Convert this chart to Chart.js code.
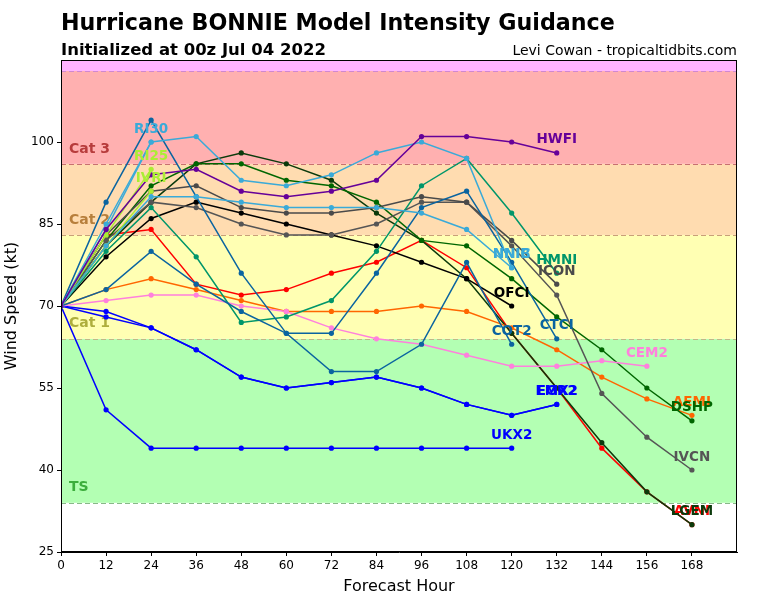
<!DOCTYPE html>
<html>
<head>
<meta charset="utf-8">
<script src="https://cdn.jsdelivr.net/npm/chart.js@4.4.0/dist/chart.umd.min.js"></script>
<style>
  html, body { margin: 0; padding: 0; background: #fff; }
</style>
</head>
<body>
<canvas id="intensity-chart" width="768" height="600"></canvas>
<script>
// forecast hours and tick labels
const forecastHours = [0, 12, 24, 36, 48, 60, 72, 84, 96, 108, 120, 132, 144, 156, 168];
const xTicks = [0, 12, 24, 36, 48, 60, 72, 84, 96, 108, 120, 132, 144, 156, 168];
const yTicks = [25, 40, 55, 70, 85, 100];

// category bounds (kt) and names
const catBounds = [34, 64, 83, 96, 113];
const catNames = ['TS', 'Cat 1', 'Cat 2', 'Cat 3'];

// model intensities (kt), one value every 12 h from hour 0
const hwfi = [70, 84, 94, 95, 91, 90, 91, 93, 101, 101, 100, 98];
const ri30 = [70, 85, 100];
const ri25 = [70, 83, 95];
const ivri = [70, 81, 91];
const nnic = [70, 84, 100, 101, 93, 92, 94, 98, 100, 97, 77];
const nnib = [70, 81, 90, 90, 89, 88, 88, 88, 87, 84, 77];
const cot2 = [70, 89, 104, 90, 76, 65, 58, 58, 63, 78, 63];
const ctci = [70, 73, 80, 74, 69, 65, 65, 76, 88, 91, 78, 64];
const hmni = [70, 80, 88, 79, 67, 68, 71, 80, 92, 97, 87, 76];
const icon = [70, 83, 91, 92, 88, 87, 87, 88, 90, 89, 82, 74];
const ivcn = [70, 82, 89, 88, 85, 83, 83, 85, 89, 89, 81, 72, 54, 46, 40];
const ofci = [70, 79, 86, 89, 87, 85, 83, 81, 78, 75, 70];
const cem2 = [70, 71, 72, 72, 70, 69, 66, 64, 63, 61, 59, 59, 60, 59];
const egr2 = [70, 69, 66, 62, 57, 55, 56, 57, 55, 52, 50, 52];
const emx2 = [70, 68, 66, 62, 57, 55, 56, 57, 55, 52, 50, 52];
const ukx2 = [70, 51, 44, 44, 44, 44, 44, 44, 44, 44, 44];
const aemi = [70, 73, 75, 73, 71, 69, 69, 69, 70, 69, 66, 62, 57, 53, 50];
const dshp = [70, 82, 92, 96, 96, 93, 92, 89, 82, 81, 75, 68, 62, 55, 49];
const lgem = [70, 81, 89, 96, 98, 96, 93, 87, 82, 75, 65, 55, 45, 36, 30];
const avni = [70, 83, 84, 74, 72, 73, 76, 78, 82, 77, 65, 55, 44, 36, 30];

// first entry is drawn on top
const models = [
  ['HWFI', '#660099', hwfi],
  ['NNIB', '#3aaad8', nnib],
  ['NNIC', '#3aaad8', nnic],
  ['RI30', '#3aaad8', ri30],
  ['RI25', '#aaee33', ri25],
  ['IVRI', '#aaee33', ivri],
  ['COT2', '#0a64a0', cot2],
  ['CTCI', '#0a64a0', ctci],
  ['HMNI', '#00966a', hmni],
  ['ICON', '#4a4a4a', icon],
  ['IVCN', '#555555', ivcn],
  ['OFCI', '#000000', ofci],
  ['CEM2', '#ff80dd', cem2],
  ['EGR2', '#0000ff', egr2],
  ['EMX2', '#0000ff', emx2],
  ['UKX2', '#0000ff', ukx2],
  ['DSHP', '#006600', dshp],
  ['AEMI', '#ff6600', aemi],
  ['LGEM', '#0b3a0b', lgem],
  ['AVNI', '#ff0000', avni]
];

const bandFill = ['#b3ffb3', '#ffffb3', '#ffdcb0', '#ffb0b0', '#ffb3ff'];
const bandLine = ['#88b888', '#c0b888', '#c8a078', '#c87070', '#d088d0'];
const catColor = ['rgba(40,160,40,0.85)', 'rgba(160,160,40,0.85)', 'rgba(170,110,40,0.85)', 'rgba(170,40,40,0.85)'];

const bands = {
  id: 'bands',
  beforeDatasetsDraw(chart) {
    const { ctx, chartArea: a, scales: { y } } = chart;
    ctx.save();
    ctx.beginPath();
    ctx.rect(a.left, a.top, a.width, a.height);
    ctx.clip();
    for (let i = 0; i < catBounds.length; i++) {
      const lo = y.getPixelForValue(catBounds[i]);
      const hi = i + 1 < catBounds.length ? y.getPixelForValue(catBounds[i + 1]) : a.top;
      ctx.fillStyle = bandFill[i];
      ctx.fillRect(a.left, hi, a.width, lo - hi);
    }
    ctx.setLineDash([5, 3]);
    ctx.lineWidth = 1.2;
    for (let i = 0; i < catBounds.length; i++) {
      const p = Math.round(y.getPixelForValue(catBounds[i])) + 0.5;
      ctx.strokeStyle = bandLine[i];
      ctx.beginPath();
      ctx.moveTo(a.left, p);
      ctx.lineTo(a.right, p);
      ctx.stroke();
    }
    ctx.setLineDash([]);
    ctx.font = 'bold 14px "DejaVu Sans"';
    ctx.textAlign = 'left';
    ctx.textBaseline = 'middle';
    catNames.forEach((n, i) => {
      ctx.fillStyle = catColor[i];
      ctx.fillText(n, a.left + 8, y.getPixelForValue(catBounds[i]) - 15);
    });
    ctx.restore();
  }
};

const labels = {
  id: 'labels',
  afterDatasetsDraw(chart) {
    const { ctx } = chart;
    ctx.save();
    ctx.font = 'bold 13.5px "DejaVu Sans"';
    ctx.textAlign = 'center';
    ctx.textBaseline = 'middle';
    const sets = chart.data.datasets;
    for (let i = sets.length - 1; i >= 0; i--) {
      const pts = chart.getDatasetMeta(i).data;
      const last = pts[pts.length - 1];
      ctx.fillStyle = sets[i].borderColor;
      ctx.fillText(sets[i].label, last.x, last.y - 13);
    }
    ctx.restore();
  },
  afterDraw(chart) {
    const { ctx, chartArea: a } = chart;
    ctx.save();
    ctx.strokeStyle = '#000';
    ctx.lineWidth = 1;
    ctx.strokeRect(a.left + 0.5, a.top + 0.5, a.width - 1, a.height - 1);
    ctx.fillStyle = '#000';
    ctx.textBaseline = 'alphabetic';
    ctx.textAlign = 'left';
    ctx.font = 'bold 22.2px "DejaVu Sans"';
    ctx.fillText('Hurricane BONNIE Model Intensity Guidance', 61, 30);
    ctx.font = 'bold 16.5px "DejaVu Sans"';
    ctx.fillText('Initialized at 00z Jul 04 2022', 61, 55);
    ctx.textAlign = 'right';
    ctx.font = '14px "DejaVu Sans"';
    ctx.fillText('Levi Cowan - tropicaltidbits.com', 737, 55);
    ctx.restore();
  }
};

const ctx = document.getElementById('intensity-chart');
new Chart(ctx, {
  type: 'line',
  data: {
    datasets: models.map(([name, color, vals]) => ({
      label: name,
      data: vals.map((v, k) => ({ x: forecastHours[k], y: v })),
      borderColor: color,
      backgroundColor: color,
      borderWidth: 1.5,
      pointRadius: 2.6,
      pointBorderWidth: 0,
      fill: false,
      tension: 0
    }))
  },
  options: {
    responsive: false,
    animation: false,
    layout: { padding: { left: 0, top: 60, right: 31, bottom: 0 } },
    plugins: { legend: { display: false }, tooltip: { enabled: false } },
    scales: {
      x: {
        type: 'linear',
        min: 0,
        max: 180,
        afterBuildTicks: s => { s.ticks = xTicks.map(v => ({ value: v })); },
        afterFit: s => { s.height = 48; },
        grid: { drawOnChartArea: false, tickLength: 4, color: '#000' },
        border: { color: '#000' },
        ticks: { color: '#000', font: { family: 'DejaVu Sans', size: 12 }, padding: 3, maxRotation: 0, autoSkip: false },
        title: { display: true, text: 'Forecast Hour', color: '#000', font: { family: 'DejaVu Sans', size: 16 }, padding: { top: 2, bottom: 4 } }
      },
      y: {
        min: 25,
        max: 115,
        afterBuildTicks: s => { s.ticks = yTicks.map(v => ({ value: v })); },
        afterFit: s => { s.width = 61; },
        grid: { drawOnChartArea: false, tickLength: 4, color: '#000' },
        border: { color: '#000' },
        ticks: { color: '#000', font: { family: 'DejaVu Sans', size: 12 }, padding: 3, autoSkip: false },
        title: { display: true, text: 'Wind Speed (kt)', color: '#000', font: { family: 'DejaVu Sans', size: 16 }, padding: { top: 2, bottom: 2 } }
      }
    }
  },
  plugins: [bands, labels]
});
</script>
</body>
</html>
